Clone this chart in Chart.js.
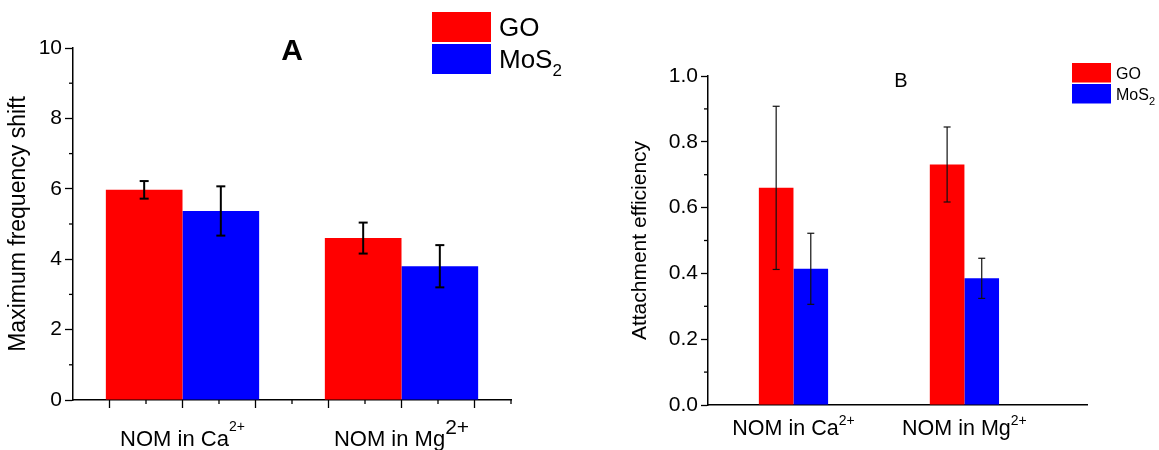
<!DOCTYPE html>
<html lang="en">
<head>
<meta charset="UTF-8">
<title>GO / MoS2 deposition</title>
<script src="https://cdn.jsdelivr.net/npm/chart.js"></script>
<style>
  body { margin: 0; background: #fff; }
  .panel { position: absolute; top: 0; height: 450px; }
  #panelA { left: 0; width: 580px; }
  #panelB { left: 580px; width: 579px; }
</style>
</head>
<body>
<div class="panel" id="panelA"><canvas id="chartA" width="580" height="450"></canvas></div>
<div class="panel" id="panelB"><canvas id="chartB" width="579" height="450"></canvas></div>
<script>
// data
const categories = ['NOM in Ca^{2+}', 'NOM in Mg^{2+}'];
const catPos = [0.5, 1.5];
const seriesNames = ['GO', 'MoS_{2}'];
const seriesColors = ['#ff0000', '#0000ff'];

// panel A: maximum frequency shift
const shiftGO = [5.97, 4.60];
const shiftGOErr = [0.25, 0.44];
const shiftMoS2 = [5.37, 3.80];
const shiftMoS2Err = [0.70, 0.60];

// panel B: attachment efficiency
const effGO = [0.660, 0.731];
const effGOErr = [0.248, 0.114];
const effMoS2 = [0.414, 0.385];
const effMoS2Err = [0.108, 0.061];

const FONT = '"Liberation Sans", Arial, sans-serif';
Chart.defaults.font.family = FONT;
Chart.defaults.color = '#000';

// 'MoS_{2}' -> [{t:'MoS'}, {t:'2', mode:'_'}]
function parseRich(str) {
  const parts = [];
  const re = /([_^])\{([^}]*)\}/g;
  let last = 0, m;
  while ((m = re.exec(str))) {
    if (m.index > last) parts.push({ t: str.slice(last, m.index) });
    parts.push({ t: m[2], mode: m[1] });
    last = re.lastIndex;
  }
  if (last < str.length) parts.push({ t: str.slice(last) });
  return parts;
}

// st = {size, weight, script:{size, rise|drop}} ; align 'left' or 'center'
function drawRich(ctx, str, x, y, st, align) {
  const parts = parseRich(str);
  const fontOf = p => (st.weight || 'normal') + ' ' + (p.mode ? st.script.size : st.size) + 'px ' + FONT;
  let total = 0;
  parts.forEach(p => { ctx.font = fontOf(p); p.w = ctx.measureText(p.t).width; total += p.w; });
  let cx = align === 'center' ? x - total / 2 : x;
  ctx.textAlign = 'left';
  ctx.textBaseline = 'alphabetic';
  ctx.fillStyle = '#000';
  parts.forEach(p => {
    ctx.font = fontOf(p);
    let dy = 0;
    if (p.mode === '^') dy = -st.script.rise;
    if (p.mode === '_') dy = st.script.drop;
    ctx.fillText(p.t, cx, y + dy);
    cx += p.w;
  });
}

function tick(ctx, x1, y1, x2, y2) {
  ctx.beginPath(); ctx.moveTo(x1, y1); ctx.lineTo(x2, y2); ctx.stroke();
}

const originStyle = {
  id: 'originStyle',
  afterDatasetsDraw(chart, args, o) {
    const ctx = chart.ctx, ys = chart.scales.y;
    ctx.save();
    ctx.strokeStyle = o.err.color;
    ctx.lineWidth = o.err.width;
    chart.data.datasets.forEach((ds, di) => {
      chart.getDatasetMeta(di).data.forEach((bar, i) => {
        const v = ds.data[i].y, e = ds.errors[i];
        const top = ys.getPixelForValue(v + e), bot = ys.getPixelForValue(v - e);
        tick(ctx, bar.x, top, bar.x, bot);
        tick(ctx, bar.x - o.err.cap, top, bar.x + o.err.cap, top);
        tick(ctx, bar.x - o.err.cap, bot, bar.x + o.err.cap, bot);
      });
    });
    ctx.restore();
  },
  afterDraw(chart, args, o) {
    const ctx = chart.ctx, xs = chart.scales.x, ys = chart.scales.y;
    ctx.save();
    ctx.strokeStyle = '#000';
    ctx.lineWidth = 1.3;
    // minor y ticks halfway between the major ones
    const yt = ys.ticks;
    for (let i = 0; i < yt.length - 1; i++) {
      const py = ys.getPixelForValue((yt[i].value + yt[i + 1].value) / 2);
      tick(ctx, xs.left - o.minorLen, py, xs.left, py);
    }
    // x ticks (panel A only)
    if (o.xTickStep) {
      const n = Math.round((xs.max - xs.min) / o.xTickStep);
      for (let k = 1; k <= n; k++) {
        const px = xs.getPixelForValue(xs.min + k * o.xTickStep);
        tick(ctx, px, ys.bottom, px, ys.bottom + (k % 2 ? o.majorLen : o.minorLen));
      }
    }
    // category labels with superscripts
    categories.forEach((c, i) => {
      drawRich(ctx, c, xs.getPixelForValue(catPos[i]), o.label.baseline,
        { size: o.label.size, script: o.label.sup[i] }, 'center');
    });
    // panel letter
    ctx.font = o.title.weight + ' ' + o.title.size + 'px ' + FONT;
    ctx.textAlign = 'center';
    ctx.textBaseline = 'alphabetic';
    ctx.fillStyle = '#000';
    ctx.fillText(o.title.text, o.title.x, o.title.y);
    // legend
    const L = o.legend;
    chart.data.datasets.forEach((ds, i) => {
      const top = L.y + i * (L.h + L.gap);
      ctx.fillStyle = ds.backgroundColor;
      ctx.fillRect(L.x, top, L.w, L.h);
      drawRich(ctx, seriesNames[i], L.x + L.w + L.textGap, top + L.h / 2 + 0.36 * L.size,
        { size: L.size, script: { size: L.subSize, drop: L.subDrop } }, 'left');
    });
    ctx.restore();
  }
};

function makeChart(id, cfg) {
  const datasets = cfg.values.map((vals, i) => ({
    label: seriesNames[i],
    data: vals.map((v, j) => ({ x: catPos[j], y: v })),
    errors: cfg.errors[i],
    backgroundColor: seriesColors[i],
    borderWidth: 0,
    categoryPercentage: cfg.catPct,
    barPercentage: 1
  }));
  return new Chart(document.getElementById(id), {
    type: 'bar',
    data: { datasets },
    plugins: [originStyle],
    options: {
      responsive: false,
      animation: false,
      events: [],
      layout: { padding: cfg.padding },
      plugins: {
        legend: { display: false },
        tooltip: { enabled: false },
        originStyle: cfg.deco
      },
      scales: {
        x: {
          type: 'linear',
          min: 0,
          max: cfg.xMax,
          offset: false,
          z: 1,
          afterBuildTicks: s => { s.ticks = catPos.map(v => ({ value: v })); },
          afterFit: s => { s.height = cfg.xHeight; },
          ticks: { display: false },
          grid: { display: false, drawTicks: false, offset: false },
          border: { display: true, color: '#000', width: 1.5 }
        },
        y: {
          min: 0,
          max: cfg.yMax,
          z: 1,
          afterFit: s => { s.width = cfg.yWidth; },
          ticks: {
            stepSize: cfg.yStep,
            padding: 3,
            font: { size: cfg.tickSize },
            color: '#000',
            callback: cfg.yFormat
          },
          grid: { drawOnChartArea: false, tickLength: cfg.deco.majorLen, tickColor: '#000', tickWidth: 1.3 },
          border: { display: true, color: '#000', width: 1.5 },
          title: {
            display: true,
            text: cfg.yTitle,
            font: { size: cfg.yTitleSize },
            color: '#000',
            padding: { top: 4, bottom: 4 }
          }
        }
      }
    }
  });
}

makeChart('chartA', {
  values: [shiftGO, shiftMoS2],
  errors: [shiftGOErr, shiftMoS2Err],
  catPct: 0.70,
  xMax: 2,
  yMax: 10,
  yStep: 2,
  yFormat: v => String(v),
  yTitle: 'Maximum frequency shift',
  yTitleSize: 23,
  tickSize: 21,
  padding: { left: 1, top: 48, right: 69, bottom: 0 },
  yWidth: 72,
  xHeight: 50,
  deco: {
    err: { color: '#000', width: 2, cap: 4.5 },
    majorLen: 8,
    minorLen: 4,
    xTickStep: 1 / 6,
    label: { baseline: 446, size: 22, sup: [{ size: 14, rise: 15 }, { size: 21, rise: 12 }] },
    title: { text: 'A', weight: 'bold', size: 30, x: 292, y: 60 },
    legend: { x: 432, y: 12, w: 59, h: 30, gap: 2, textGap: 8, size: 26, subSize: 17, subDrop: 8 }
  }
});

makeChart('chartB', {
  values: [effGO, effMoS2],
  errors: [effGOErr, effMoS2Err],
  catPct: 0.405,
  xMax: 2.217,
  yMax: 1,
  yStep: 0.2,
  yFormat: v => v.toFixed(1),
  yTitle: 'Attachment efficiency',
  yTitleSize: 21,
  tickSize: 21,
  padding: { left: 44, top: 76, right: 72, bottom: 0 },
  yWidth: 84,
  xHeight: 45,
  deco: {
    err: { color: '#111', width: 1.2, cap: 3.5 },
    majorLen: 7,
    minorLen: 4,
    xTickStep: 0,
    label: { baseline: 435, size: 21.5, sup: [{ size: 14, rise: 10 }, { size: 14, rise: 10 }] },
    title: { text: 'B', weight: 'normal', size: 20, x: 321, y: 87 },
    legend: { x: 492, y: 63, w: 39, h: 19.5, gap: 1.5, textGap: 5, size: 16, subSize: 11, subDrop: 5 }
  }
});
</script>
</body>
</html>
